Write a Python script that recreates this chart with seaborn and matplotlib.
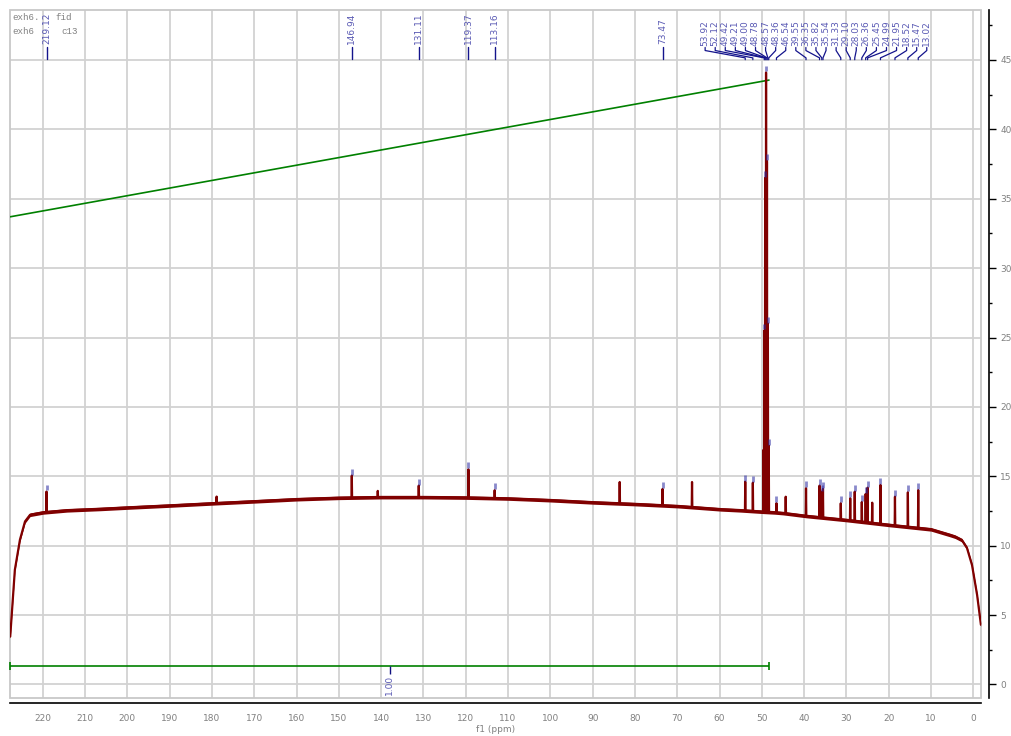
import numpy as np
import pandas as pd
import matplotlib
matplotlib.use("Agg")
import matplotlib.pyplot as plt
from matplotlib.patches import Rectangle
from matplotlib.ticker import MultipleLocator
import seaborn as sns

# ---- 13C spectrum data -------------------------------------------------
# baseline of the trace (ppm, intensity)
baseline_ppm = [227.7, 226.6, 225.4, 224.2, 223.0, 219.9, 214.3, 206.4, 200.0,
                189.7, 180.0, 169.8, 160.0, 150.0, 140.0, 129.9, 120.0, 109.8,
                100.0, 89.8, 80.0, 69.8, 59.6, 55.0, 50.0, 47.0, 45.0, 39.5,
                30.0, 19.7, 10.0, 5.5, 4.3, 2.7, 1.5, 0.3, -0.9, -1.8]
baseline_int = [3.45, 8.27, 10.43, 11.75, 12.23, 12.40, 12.55, 12.65, 12.75,
                12.90, 13.05, 13.20, 13.35, 13.45, 13.50, 13.50, 13.47, 13.40,
                13.28, 13.12, 13.00, 12.85, 12.62, 12.55, 12.45, 12.40, 12.35,
                12.14, 11.85, 11.49, 11.18, 10.77, 10.65, 10.40, 9.84, 8.60,
                6.45, 4.30]

# picked peaks (label text, ppm, peak top)
picked_labels = ["219.12", "146.94", "131.11", "119.37", "113.16", "73.47",
                 "53.92", "52.12", "49.42", "49.21", "49.00", "48.78", "48.57",
                 "48.36", "46.54", "39.55", "36.35", "35.82", "35.54", "31.33",
                 "29.10", "28.03", "26.36", "25.45", "24.99", "21.95", "18.52",
                 "15.47", "13.02"]
picked_ppm = [219.12, 146.94, 131.11, 119.37, 113.16, 73.47,
              53.92, 52.12, 49.42, 49.21, 49.00, 48.78, 48.57,
              48.36, 46.54, 39.55, 36.35, 35.82, 35.54, 31.33,
              29.10, 28.03, 26.36, 25.45, 24.99, 21.95, 18.52,
              15.47, 13.02]
picked_top = [13.90, 15.05, 14.33, 15.50, 14.00, 14.09,
              14.61, 14.54, 25.50, 36.50, 44.10, 37.70, 26.00,
              17.20, 13.06, 14.14, 14.33, 13.89, 14.09, 13.06,
              13.42, 13.89, 13.15, 13.73, 14.18, 14.38, 13.53,
              13.85, 14.01]

# peaks without a label
other_ppm = [178.9, 140.8, 83.6, 66.5, 49.63, 44.35, 23.9]
other_top = [13.54, 13.95, 14.59, 14.59, 16.90, 13.53, 13.10]

# integral curve and integral region
integral_ppm = [227.7, 48.3]
integral_curve = [33.70, 43.55]
integral_range = [227.7, 48.3]
integral_value = "1.00"
integral_level = 1.33

# axis ranges
x_lim = (227.75, -1.82)
y_lim = (-1.333, 48.6)
frame_bottom = -0.973

# ---- build the trace ---------------------------------------------------
bp = np.array(baseline_ppm)[::-1]
bi = np.array(baseline_int)[::-1]
half_width = 0.07
pts_ppm = list(baseline_ppm)
pts_int = list(baseline_int)
for p, h in zip(picked_ppm + other_ppm, picked_top + other_top):
    for q in (p + half_width, p - half_width):
        pts_ppm.append(q)
        pts_int.append(float(np.interp(q, bp, bi)))
    pts_ppm.append(p)
    pts_int.append(h)
order = np.argsort(pts_ppm)[::-1]
spectrum = pd.DataFrame({"ppm": np.array(pts_ppm)[order],
                         "intensity": np.array(pts_int)[order]})
integral = pd.DataFrame({"ppm": integral_ppm, "value": integral_curve})

# ---- figure ------------------------------------------------------------
sns.set_style("white")
plt.rcParams["font.family"] = ["DejaVu Sans"]

W, H = 1011, 736
fig = plt.figure(figsize=(W / 100, H / 100), dpi=100)
ax = fig.add_axes([10 / W, 1 - 703 / H, 971 / W, 693 / H])
ax.set_xlim(*x_lim)
ax.set_ylim(*y_lim)

grid_c = "#d2d2d2"
ax.vlines(np.arange(0, 221, 10), frame_bottom, y_lim[1], color=grid_c, lw=1.3, zorder=0)
ax.hlines(np.arange(0, 46, 5), x_lim[0], x_lim[1], color=grid_c, lw=1.3, zorder=0)
ax.add_patch(Rectangle((x_lim[1], frame_bottom), x_lim[0] - x_lim[1],
                       y_lim[1] - frame_bottom, fill=False, edgecolor="#c8c8c8",
                       lw=1.3, clip_on=False, zorder=0))

# integral
green = "#008000"
sns.lineplot(data=integral, x="ppm", y="value", ax=ax, color=green, lw=1.2,
             sort=False, estimator=None, zorder=2)
ax.hlines(integral_level, integral_range[0], integral_range[1], color=green, lw=1.2,
          clip_on=False)
ax.vlines(integral_range, integral_level - 0.3, integral_level + 0.3, color=green,
          lw=1.2, clip_on=False)
mid = (integral_range[0] + integral_range[1]) / 2
ax.vlines(mid, integral_level - 0.6, integral_level, color="#101080", lw=1.0)
ax.text(mid, integral_level - 0.62, integral_value, rotation=90, ha="center",
        va="top", fontsize=6.5, color="#5a5ab4")

# spectrum trace: a thin band for the baseline noise, then the line itself
ax.fill_between(baseline_ppm, np.array(baseline_int) - 0.13,
                np.array(baseline_int) + 0.13, color="#800000", lw=0, zorder=3)
sns.lineplot(data=spectrum, x="ppm", y="intensity", ax=ax, color="#800000",
             lw=1.6, sort=False, estimator=None, zorder=3)

# peak-pick markers above each picked peak
ax.vlines(picked_ppm, np.array(picked_top) + 0.08, np.array(picked_top) + 0.5,
          color="#2828a0", alpha=0.55, lw=2.0, zorder=4)

# peak labels along the top
label_c = "#5a5ab4"
line_c = "#14148c"
singles = 6
for lab, p in zip(picked_labels[:singles], picked_ppm[:singles]):
    ax.text(p, 46.12, lab, rotation=90, ha="center", va="bottom", fontsize=6.5,
            color=label_c)
    ax.plot([p, p], [45.95, 45.07], color=line_c, lw=1.0, clip_on=False)

cluster_pos = np.linspace(63.4, 11.0, len(picked_labels) - singles)
for lab, p, lx in zip(picked_labels[singles:], picked_ppm[singles:], cluster_pos):
    ax.text(lx, 46.0, lab, rotation=90, ha="center", va="bottom", fontsize=6.5,
            color=label_c)
    ax.plot([lx, lx, p, p], [45.9, 45.68, 45.15, 45.02], color=line_c, lw=0.9)

# axes decoration
for s in ("left", "top"):
    ax.spines[s].set_visible(False)
ax.spines["bottom"].set_color("black")
ax.spines["bottom"].set_linewidth(1.2)
ax.spines["right"].set_color("black")
ax.spines["right"].set_linewidth(1.2)
ax.spines["right"].set_position(("outward", 6))
ax.spines["right"].set_bounds(frame_bottom, y_lim[1])

ax.xaxis.set_major_locator(MultipleLocator(10))
ax.xaxis.set_minor_locator(MultipleLocator(5))
ax.yaxis.set_major_locator(MultipleLocator(5))
ax.yaxis.set_minor_locator(MultipleLocator(2.5))
ax.yaxis.tick_right()
ax.tick_params(axis="both", which="major", direction="out", length=5, width=1,
               color="black", labelcolor="#808080", labelsize=6.5, pad=3)
ax.tick_params(axis="both", which="minor", direction="out", length=2.5, width=1,
               color="black")
ax.set_xticks(np.arange(0, 221, 10))
ax.set_yticks(np.arange(0, 46, 5))
ax.set_xlabel("f1 (ppm)", fontsize=6.5, color="#808080", labelpad=1)
ax.set_ylabel("")

# spectrum title, split around the 219.12 label that crosses it
title_kw = dict(family="Liberation Mono", fontsize=6.6, color="#808080",
                va="center", ha="left")
fig.text(12 / W, 1 - 17 / H, "exh6.", **title_kw)
fig.text(55 / W, 1 - 17 / H, "fid", **title_kw)
fig.text(12 / W, 1 - 31 / H, "exh6", **title_kw)
fig.text(61 / W, 1 - 31 / H, "c13", **title_kw)

fig.savefig("out.png", dpi=100)
